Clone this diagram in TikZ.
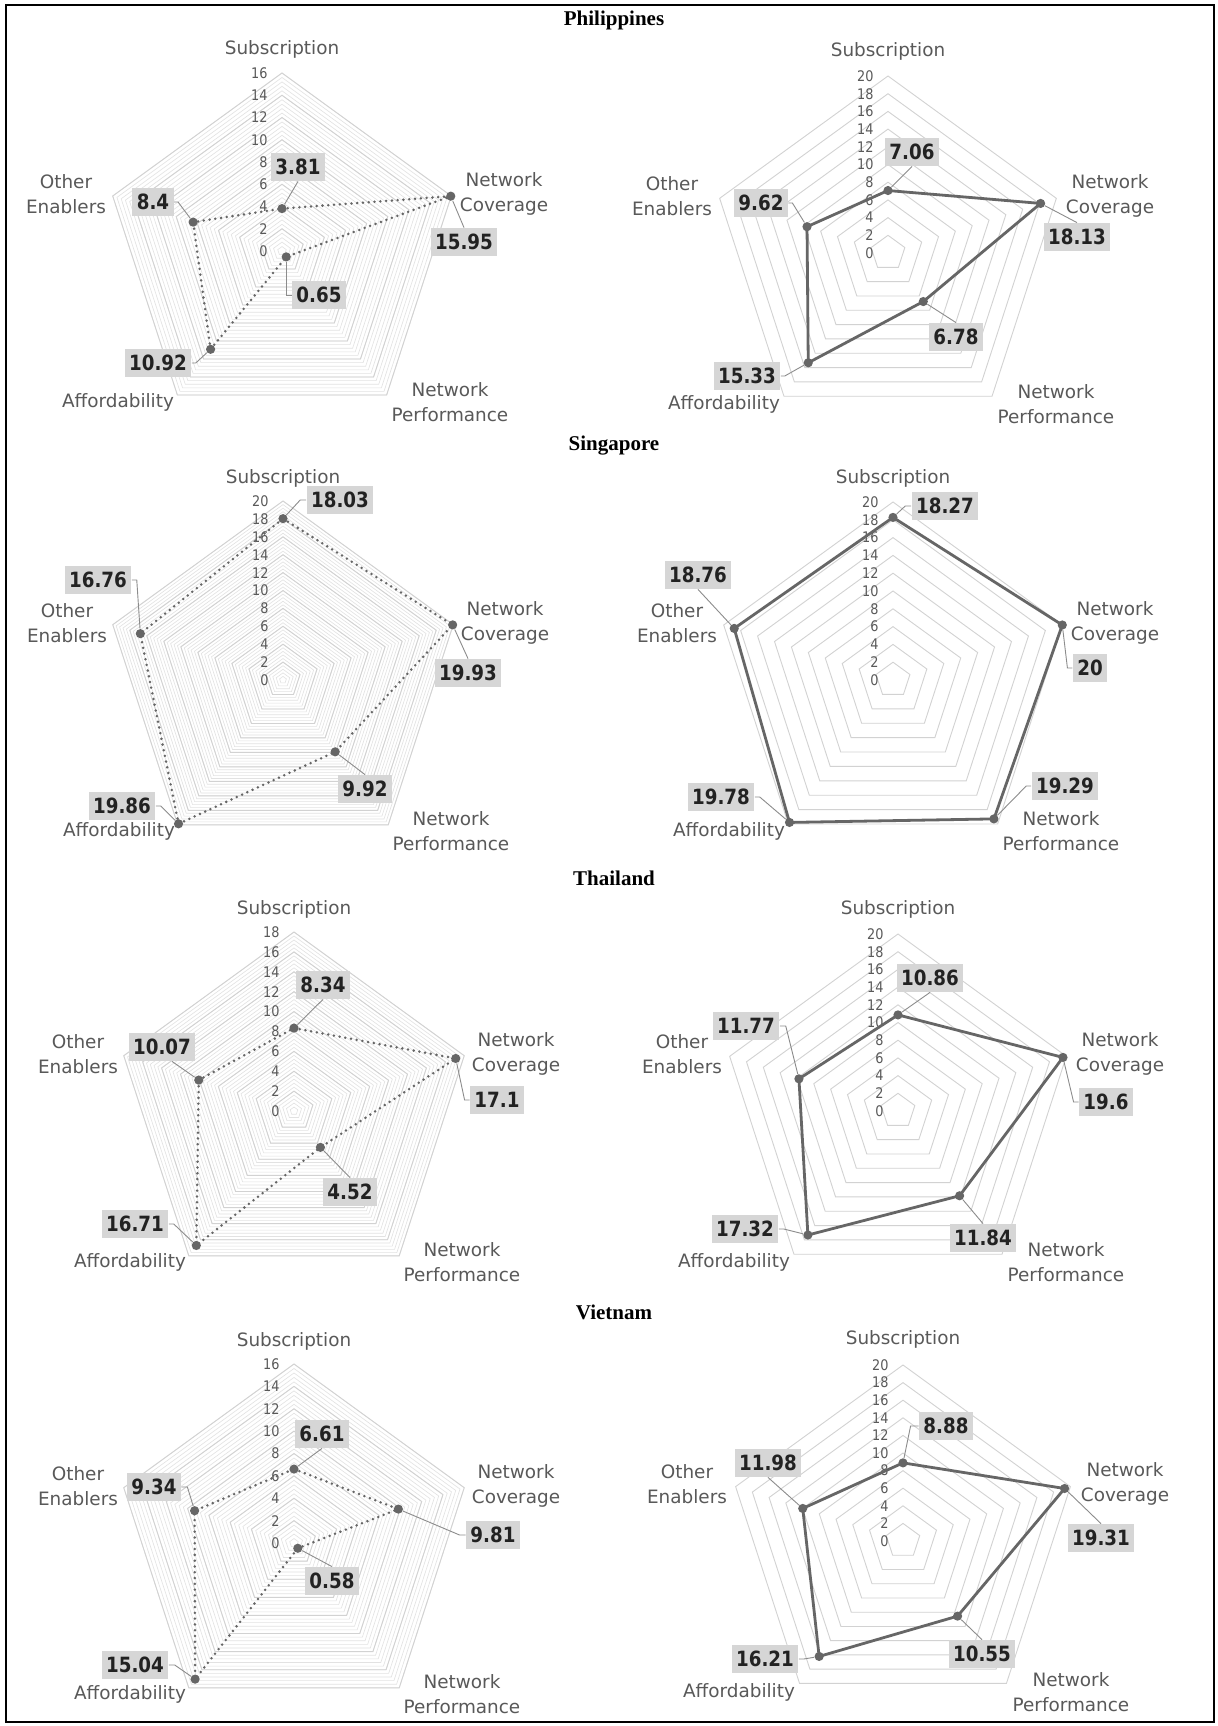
\documentclass[tikz,border=0pt]{standalone}
\usepackage{fontspec}
\newfontfamily\chartfont{DejaVu Sans}
\newfontfamily\titlefont{Liberation Serif}

\definecolor{gridmaj}{HTML}{D2D2D2}
\definecolor{gridmin}{HTML}{E2E2E2}
\definecolor{axtext}{HTML}{595959}
\definecolor{dataln}{HTML}{666666}
\definecolor{boxfill}{HTML}{D6D6D6}
\definecolor{numtext}{HTML}{222222}
\definecolor{leadln}{HTML}{8C8C8C}

\tikzset{
  gridmajor/.style={draw=gridmaj, line width=0.45pt},
  gridminor/.style={draw=gridmin, line width=0.3pt},
  scalelbl/.style={font=\chartfont\fontsize{7.3}{7.5}\selectfont, text=axtext, xscale=.88, inner sep=0pt, anchor=east, xshift=-8pt},
  axlbl/.style={font=\chartfont\fontsize{9.2}{12.5}\selectfont, text=axtext, align=center, inner sep=0pt},
  vbox/.style={fill=boxfill, font=\chartfont\bfseries\fontsize{10.5}{12}\selectfont, text=numtext, xscale=.87,
    inner xsep=2.6pt, inner ysep=0pt, text height=7.7pt, text depth=0pt, minimum height=14pt},
  dot/.style={circle, fill=dataln, inner sep=0pt, minimum size=4.6pt},
  dotline/.style={draw=dataln, line width=1.4pt, dash pattern=on 0pt off 2.9pt, line cap=round},
  solidline/.style={draw=dataln, line width=1.4pt, line join=round},
  leader/.style={draw=leadln, line width=0.45pt},
  title/.style={font=\titlefont\bfseries\fontsize{10.5}{12}\selectfont, inner sep=0pt}
}

% grid pentagons and scale numbers, inside a scope in value units
\newcommand{\radargrid}[3]{% #1 name, #2 max, #3 minor lines (1) or not (0)
  \ifnum#3=1
    \pgfmathtruncatemacro{\nminor}{#2*2.5}
    \foreach \i in {1,...,\nminor}{
      \pgfmathsetmacro{\v}{\i*0.4}
      \draw[gridminor] (90:\v) -- (18:\v) -- (-54:\v) -- (-126:\v) -- (162:\v) -- cycle;
    }
  \fi
  \foreach \v in {2,4,...,#2}
    \draw[gridmajor] (90:\v) -- (18:\v) -- (-54:\v) -- (-126:\v) -- (162:\v) -- cycle;
  \foreach \v in {0,2,...,#2}
    \node[scalelbl] (#1t\v) at (0,\v) {\v};
}

% data polygon and its dots
\newcommand{\radardata}[7]{% #1 name, #2 line style, #3..#7 values
  \coordinate (#1s) at (90:#3);
  \coordinate (#1c) at (18:#4);
  \coordinate (#1p) at (-54:#5);
  \coordinate (#1a) at (-126:#6);
  \coordinate (#1o) at (162:#7);
  \draw[#2] (#1s) -- (#1c) -- (#1p) -- (#1a) -- (#1o) -- cycle;
  \foreach \k in {s,c,p,a,o}
    \node[dot] (#1\k d) at (#1\k) {};
}

\newcommand{\axislabels}[3]{% #1 name, #2 #3 centre
  \begin{scope}[shift={(#2,#3)}]
    \node[axlbl] (#1sub) at (0,-202) {Subscription};
    \node[axlbl] (#1cov) at (222,-57) {Network\\Coverage};
    \node[axlbl] (#1per) at (168,151) {Network\\Performance};
    \node[axlbl] (#1aff) at (-164,151) {Affordability};
    \node[axlbl] (#1oth) at (-216,-57) {Other\\Enablers};
  \end{scope}
}

\begin{document}
\begin{tikzpicture}[x=0.5pt, y=-0.5pt]
  \fill[white] (0,0) rectangle (1218,1726);
  \useasboundingbox (0,0) rectangle (1218,1726);
  \draw[line width=1pt] (6,5) rectangle (1214,1722);

  \node[title] (ttlph) at (614,20) {Philippines};
  \node[title] (ttlsg) at (614,446) {Singapore};
  \node[title] (ttlth) at (614,878) {Thailand};
  \node[title] (ttlvn) at (614,1312) {Vietnam};

  % Philippines
  \begin{scope}[shift={(282,251)}, x=5.5625pt, y=5.5625pt]
    \radargrid{phL}{16}{1}
    \radardata{phL}{dotline}{3.81}{15.95}{0.65}{10.92}{8.4}
  \end{scope}
  \axislabels{phL}{282}{251}
  \node[vbox] (phLsv) at (298,167) {3.81};
  \node[vbox] (phLcv) at (464,242) {15.95};
  \node[vbox] (phLpv) at (319,295) {0.65};
  \node[vbox] (phLav) at (158,363) {10.92};
  \node[vbox] (phLov) at (153,202) {8.4};
  \draw[leader] (phLsd) -- (phLsv.south);
  \draw[leader] (phLcd) -- (phLcv.north);
  \draw[leader] (phLpd) |- (phLpv.west);
  \draw[leader] (phLav.east) -- ++(4,0) -- (phLad);
  \draw[leader] (phLov.east) -- ++(4,0) -- (phLod);

  \begin{scope}[shift={(888,253)}, x=4.425pt, y=4.425pt]
    \radargrid{phR}{20}{0}
    \radardata{phR}{solidline}{7.06}{18.13}{6.78}{15.33}{9.62}
  \end{scope}
  \axislabels{phR}{888}{253}
  \node[vbox] (phRsv) at (912,152) {7.06};
  \node[vbox] (phRcv) at (1077,237) {18.13};
  \node[vbox] (phRpv) at (956,337) {6.78};
  \node[vbox] (phRav) at (747,376) {15.33};
  \node[vbox] (phRov) at (761,203) {9.62};
  \draw[leader] (phRsd) -- (phRsv.south);
  \draw[leader] (phRcd) -- (phRcv.north);
  \draw[leader] (phRpd) -- (phRpv.north);
  \draw[leader] (phRav.east) -- ++(4,0) -- (phRad);
  \draw[leader] (phRov.east) -- ++(4,0) -- (phRod);

  % Singapore
  \begin{scope}[shift={(283,680)}, x=4.475pt, y=4.475pt]
    \radargrid{sgL}{20}{1}
    \radardata{sgL}{dotline}{18.03}{19.93}{9.92}{19.86}{16.76}
  \end{scope}
  \axislabels{sgL}{283}{680}
  \node[vbox] (sgLsv) at (340,500) {18.03};
  \node[vbox] (sgLcv) at (468,673) {19.93};
  \node[vbox] (sgLpv) at (365,789) {9.92};
  \node[vbox] (sgLav) at (122,806) {19.86};
  \node[vbox] (sgLov) at (98,580) {16.76};
  \draw[leader] (sgLsv.west) -- ++(-6,0) -- (sgLsd);
  \draw[leader] (sgLcd) -- (sgLcv.north);
  \draw[leader] (sgLpd) -- (sgLpv.north);
  \draw[leader] (sgLav.east) -- ++(5,0) -- (sgLad);
  \draw[leader] (sgLov.east) -- ++(5,0) -- (sgLod);

  \begin{scope}[shift={(893,680)}, x=4.45pt, y=4.45pt]
    \radargrid{sgR}{20}{0}
    \radardata{sgR}{solidline}{18.27}{20}{19.29}{19.78}{18.76}
  \end{scope}
  \axislabels{sgR}{893}{680}
  \node[vbox] (sgRsv) at (945,506) {18.27};
  \node[vbox] (sgRcv) at (1090,668) {20};
  \node[vbox] (sgRpv) at (1065,786) {19.29};
  \node[vbox] (sgRav) at (721,797) {19.78};
  \node[vbox] (sgRov) at (698,575) {18.76};
  \draw[leader] (sgRsv.west) -- ++(-6,0) -- (sgRsd);
  \draw[leader] (sgRcv.west) -- ++(-5,0) -- (sgRcd);
  \draw[leader] (sgRpv.west) -- ++(-5,0) -- (sgRpd);
  \draw[leader] (sgRav.east) -- ++(5,0) -- (sgRad);
  \draw[leader] (sgRod) -- (sgRov.south);

  % Thailand
  \begin{scope}[shift={(294,1111)}, x=4.972pt, y=4.972pt]
    \radargrid{thL}{18}{1}
    \radardata{thL}{dotline}{8.34}{17.1}{4.52}{16.71}{10.07}
  \end{scope}
  \axislabels{thL}{294}{1111}
  \node[vbox] (thLsv) at (323,985) {8.34};
  \node[vbox] (thLcv) at (497,1100) {17.1};
  \node[vbox] (thLpv) at (350,1192) {4.52};
  \node[vbox] (thLav) at (135,1224) {16.71};
  \node[vbox] (thLov) at (162,1047) {10.07};
  \draw[leader] (thLsd) -- (thLsv.south);
  \draw[leader] (thLcv.west) -- ++(-5,0) -- (thLcd);
  \draw[leader] (thLpd) -- (thLpv.north);
  \draw[leader] (thLav.east) -- ++(5,0) -- (thLad);
  \draw[leader] (thLod) -- ([xshift=5pt]thLov.south);

  \begin{scope}[shift={(898,1111)}, x=4.425pt, y=4.425pt]
    \radargrid{thR}{20}{0}
    \radardata{thR}{solidline}{10.86}{19.6}{11.84}{17.32}{11.77}
  \end{scope}
  \axislabels{thR}{898}{1111}
  \node[vbox] (thRsv) at (930,978) {10.86};
  \node[vbox] (thRcv) at (1106,1102) {19.6};
  \node[vbox] (thRpv) at (983,1238) {11.84};
  \node[vbox] (thRav) at (745,1229) {17.32};
  \node[vbox] (thRov) at (746,1026) {11.77};
  \draw[leader] (thRsd) -- (thRsv.south);
  \draw[leader] (thRcv.west) -- ++(-5,0) -- (thRcd);
  \draw[leader] (thRpd) -- (thRpv.north);
  \draw[leader] (thRav.east) -- ++(5,0) -- (thRad);
  \draw[leader] (thRov.east) -- ++(6,0) -- (thRod);

  % Vietnam
  \begin{scope}[shift={(294,1543)}, x=5.594pt, y=5.594pt]
    \radargrid{vnL}{16}{1}
    \radardata{vnL}{dotline}{6.61}{9.81}{0.58}{15.04}{9.34}
  \end{scope}
  \axislabels{vnL}{294}{1543}
  \node[vbox] (vnLsv) at (322,1434) {6.61};
  \node[vbox] (vnLcv) at (493,1535) {9.81};
  \node[vbox] (vnLpv) at (332,1581) {0.58};
  \node[vbox] (vnLav) at (135,1665) {15.04};
  \node[vbox] (vnLov) at (154,1487) {9.34};
  \draw[leader] (vnLsd) -- (vnLsv.south);
  \draw[leader] (vnLcv.west) -- ++(-6,0) -- (vnLcd);
  \draw[leader] (vnLpd) -- (vnLpv.north);
  \draw[leader] (vnLav.east) -- ++(6,0) -- (vnLad);
  \draw[leader] (vnLov.east) -- ++(6,0) -- (vnLod);

  \begin{scope}[shift={(903,1541)}, x=4.4pt, y=4.4pt]
    \radargrid{vnR}{20}{0}
    \radardata{vnR}{solidline}{8.88}{19.31}{10.55}{16.21}{11.98}
  \end{scope}
  \axislabels{vnR}{903}{1541}
  \node[vbox] (vnRsv) at (946,1426) {8.88};
  \node[vbox] (vnRcv) at (1101,1538) {19.31};
  \node[vbox] (vnRpv) at (982,1654) {10.55};
  \node[vbox] (vnRav) at (765,1659) {16.21};
  \node[vbox] (vnRov) at (768,1463) {11.98};
  \draw[leader] (vnRsv.west) -- ++(-8,0) -- (vnRsd);
  \draw[leader] (vnRcd) -- (vnRcv.north);
  \draw[leader] (vnRpd) -- (vnRpv.north);
  \draw[leader] (vnRav.east) -- ++(5,0) -- (vnRad);
  \draw[leader] (vnRod) -- (vnRov.south);
\end{tikzpicture}
\end{document}
